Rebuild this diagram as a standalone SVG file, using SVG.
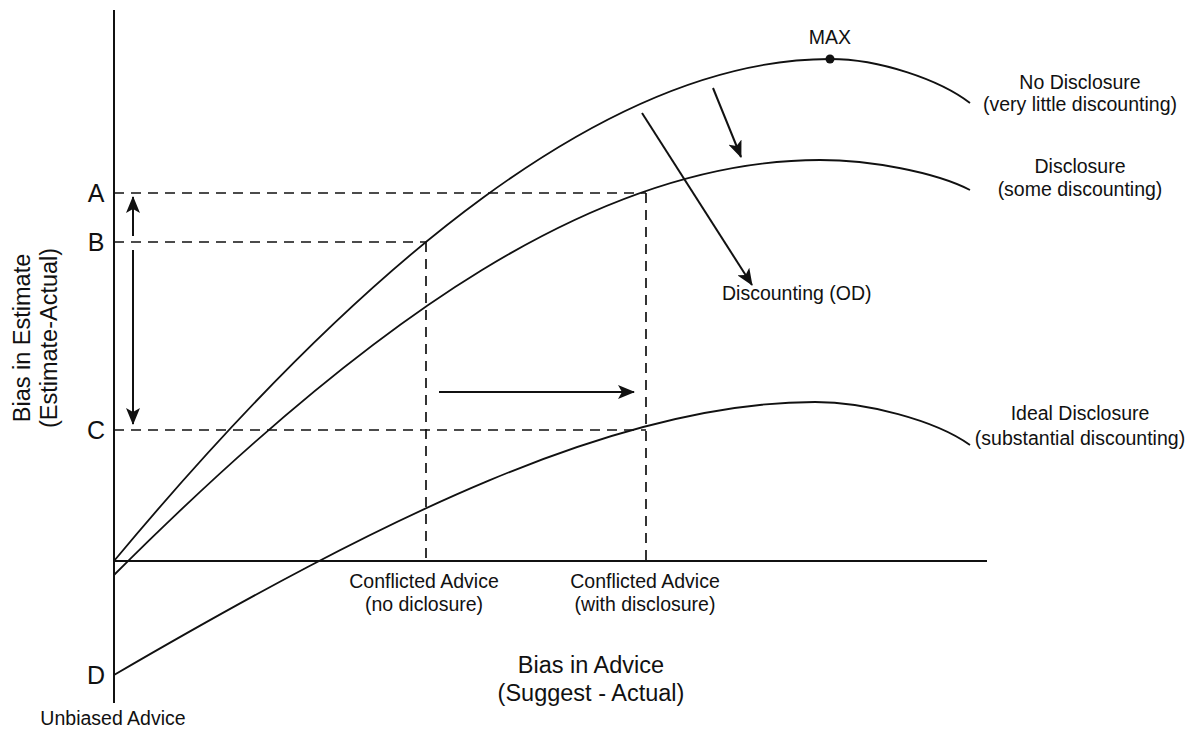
<svg xmlns="http://www.w3.org/2000/svg" width="1198" height="731" viewBox="0 0 1198 731">
<style>
text{font-family:"Liberation Sans",Arial,sans-serif;fill:#111}
.lbl{font-size:19.5px;text-anchor:middle}
.big{font-size:23.5px;text-anchor:middle}
.tick{font-size:25px;text-anchor:middle}
.axis{stroke:#111;stroke-width:2;fill:none}
.curve{stroke:#111;stroke-width:1.8;fill:none}
.dash{stroke:#111;stroke-width:1.7;fill:none;stroke-dasharray:10 7}
.arr{stroke:#111;stroke-width:2;fill:none;marker-end:url(#ah)}
</style>
<defs>
<marker id="ah" markerWidth="17" markerHeight="14" refX="16" refY="7" orient="auto" markerUnits="userSpaceOnUse">
<path d="M0,0 L17,7 L0,14 L4,7 Z" fill="#111"/>
</marker>
</defs>
<rect width="1198" height="731" fill="#fff"/>
<g id="axes">
<line class="axis" x1="114" y1="10" x2="114" y2="703"/>
<line class="axis" x1="114" y1="561" x2="987" y2="561"/>
</g>
<g id="guides">
<line class="dash" x1="114" y1="193" x2="646" y2="193"/>
<line class="dash" x1="114" y1="242" x2="426" y2="242"/>
<line class="dash" x1="114" y1="430" x2="646" y2="430"/>
<line class="dash" x1="426" y1="242" x2="426" y2="561"/>
<line class="dash" x1="646" y1="193" x2="646" y2="561"/>
</g>
<g id="curve-no-disclosure">
<path class="curve" d="M114,561 C364,261 610,59 830,59 C880,59 940,80 970,103"/>
<circle cx="830" cy="59" r="4.5" fill="#111"/>
<text class="lbl" x="830" y="44">MAX</text>
<text class="lbl" x="1080" y="89">No Disclosure</text>
<text class="lbl" x="1080" y="111">(very little discounting)</text>
</g>
<g id="curve-disclosure">
<path class="curve" d="M114,575 C374,315 600,160 820,160 C870,160 935,172 970,190"/>
<text class="lbl" x="1080" y="173">Disclosure</text>
<text class="lbl" x="1080" y="196">(some discounting)</text>
</g>
<g id="curve-ideal">
<path class="curve" d="M114,675 C380,520 615,402 815,402 C865,402 935,420 970,445"/>
<text class="lbl" x="1080" y="420">Ideal Disclosure</text>
<text class="lbl" x="1080" y="445">(substantial discounting)</text>
</g>
<g id="connectors">
<line class="arr" x1="713" y1="88" x2="741" y2="157"/>
<line class="arr" x1="642" y1="113" x2="752" y2="285"/>
<line class="arr" x1="439" y1="392" x2="634" y2="392"/>
<line class="arr" x1="133" y1="236" x2="133" y2="197"/>
<line class="arr" x1="133" y1="250" x2="133" y2="424"/>
</g>
<g id="labels">
<text x="722" y="300" style="font-size:19.5px">Discounting (OD)</text>
<text class="tick" x="96" y="202">A</text>
<text class="tick" x="96" y="251">B</text>
<text class="tick" x="96" y="439">C</text>
<text class="tick" x="96" y="684">D</text>
<text class="lbl" x="424" y="588">Conflicted Advice</text>
<text class="lbl" x="424" y="611">(no diclosure)</text>
<text class="lbl" x="645" y="588">Conflicted Advice</text>
<text class="lbl" x="645" y="611">(with disclosure)</text>
<text class="big" x="591" y="673">Bias in Advice</text>
<text class="big" x="591" y="701">(Suggest - Actual)</text>
<text class="lbl" x="113" y="725">Unbiased Advice</text>
<text class="big" transform="translate(30,338) rotate(-90)">Bias in Estimate</text>
<text class="big" transform="translate(57,338) rotate(-90)">(Estimate-Actual)</text>
</g>
</svg>
